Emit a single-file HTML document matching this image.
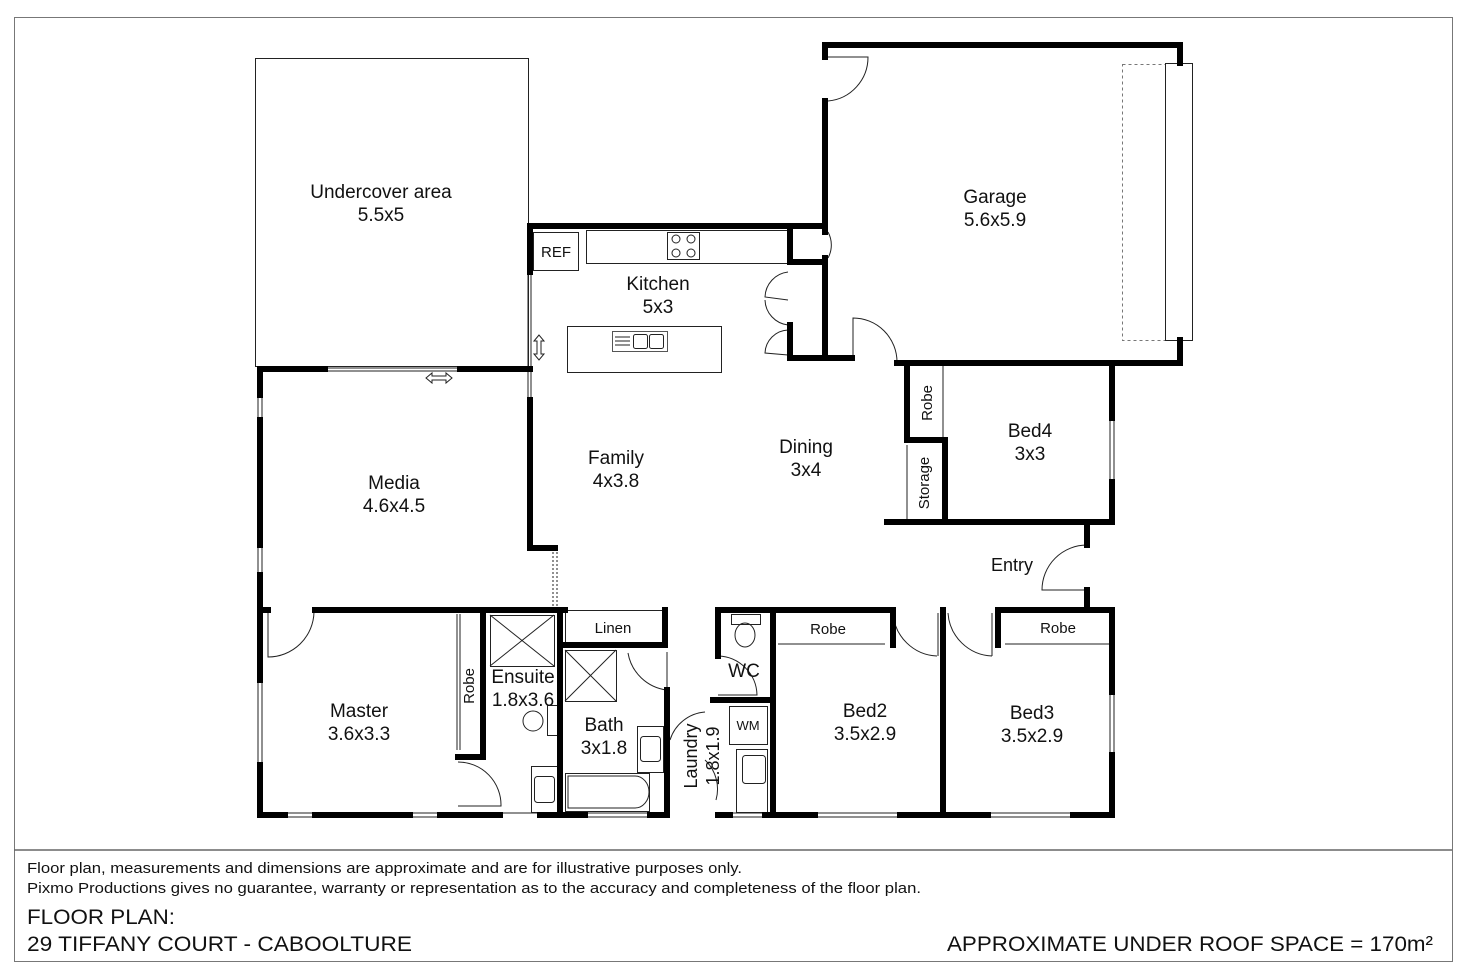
<!DOCTYPE html>
<html><head><meta charset="utf-8"><style>
html,body{margin:0;padding:0;background:#fff}
svg{display:block}
text{font-family:"Liberation Sans",sans-serif;fill:#111}
</style></head><body>
<svg width="1468" height="978" viewBox="0 0 1468 978" xmlns="http://www.w3.org/2000/svg">
<rect x="14.5" y="17.5" width="1438" height="944" fill="none" stroke="#777" stroke-width="1"/>
<line x1="14" y1="850" x2="1452" y2="850" stroke="#666" stroke-width="1.5"/>

<g fill="none" stroke="#222" stroke-width="1">
<rect x="255.5" y="58.5" width="273" height="308"/>
<line x1="325" y1="368" x2="460" y2="368"/><line x1="325" y1="371" x2="460" y2="371"/>
<line x1="528" y1="272" x2="528" y2="400"/><line x1="531" y1="272" x2="531" y2="400"/>
<line x1="553" y1="548" x2="553" y2="608" stroke-dasharray="2,2"/><line x1="557" y1="548" x2="557" y2="608" stroke-dasharray="2,2"/>
<line x1="258" y1="395" x2="258" y2="420"/><line x1="262" y1="395" x2="262" y2="420"/>
<line x1="258" y1="545" x2="258" y2="575"/><line x1="262" y1="545" x2="262" y2="575"/>
<line x1="258" y1="680" x2="258" y2="765"/><line x1="262" y1="680" x2="262" y2="765"/>
<line x1="617" y1="224" x2="643" y2="224"/><line x1="617" y1="228" x2="643" y2="228"/>
<line x1="727" y1="224" x2="757" y2="224"/><line x1="727" y1="228" x2="757" y2="228"/>
<line x1="285" y1="813" x2="315" y2="813"/><line x1="285" y1="817" x2="315" y2="817"/>
<line x1="410" y1="813" x2="440" y2="813"/><line x1="410" y1="817" x2="440" y2="817"/>
<line x1="500" y1="813" x2="540" y2="813"/><line x1="585" y1="813" x2="650" y2="813"/><line x1="585" y1="817" x2="650" y2="817"/>
<line x1="730" y1="813" x2="765" y2="813"/><line x1="730" y1="817" x2="765" y2="817"/>
<line x1="815" y1="813" x2="900" y2="813"/><line x1="815" y1="817" x2="900" y2="817"/>
<line x1="988" y1="813" x2="1073" y2="813"/><line x1="988" y1="817" x2="1073" y2="817"/>
<line x1="1110" y1="692" x2="1110" y2="755"/><line x1="1114" y1="692" x2="1114" y2="755"/>
<line x1="1110" y1="418" x2="1110" y2="482"/><line x1="1114" y1="418" x2="1114" y2="482"/>
<rect x="1122.5" y="64.5" width="43" height="276" stroke-dasharray="3,3" stroke="#777"/>
<rect x="1165.5" y="63.5" width="27" height="277"/>
<rect x="533.5" y="232.5" width="45" height="38"/>
<rect x="586.5" y="230.5" width="202" height="33"/>
<rect x="667.5" y="232.5" width="32" height="27"/>
<circle cx="676" cy="239" r="4"/><circle cx="691" cy="239" r="4"/><circle cx="676" cy="253" r="4"/><circle cx="691" cy="253" r="4"/>
<rect x="567.5" y="326.5" width="154" height="46"/>
<rect x="612.5" y="331.5" width="55" height="20" stroke="#555"/>
<rect x="633.5" y="334.5" width="14" height="14" rx="2"/><rect x="649.5" y="334.5" width="14" height="14" rx="2"/>
<line x1="615" y1="337" x2="630" y2="337"/><line x1="615" y1="341" x2="630" y2="341"/><line x1="615" y1="345" x2="630" y2="345"/>
<!-- pantry double doors -->
<path d="M788 272 A26 26 0 0 0 765 297 L788 300"/>
<path d="M788 325 A26 26 0 0 1 765 300"/>
<path d="M788 330 A24 24 0 0 0 765 353 L788 355"/>
<path d="M828 232 A27 27 0 0 1 828 258"/>
<path d="M828 57 L868 57 A44 44 0 0 1 828 101"/>
<path d="M853 360 L853 318 A44 44 0 0 1 897 362"/>
<path d="M1087 545 A45 45 0 0 0 1042 590 L1087 590"/>
<line x1="943" y1="365" x2="943" y2="440"/><line x1="907" y1="445" x2="907" y2="520"/>
<path d="M268 612 L268 657 A46 46 0 0 0 314 612"/>
<path d="M458 762 A43 43 0 0 1 501 806 L458 806"/>
<line x1="457" y1="614" x2="457" y2="750"/><line x1="460" y1="614" x2="460" y2="750"/>
<rect x="490.5" y="615.5" width="64" height="51"/>
<line x1="490" y1="615" x2="554" y2="666"/><line x1="554" y1="615" x2="490" y2="666"/>
<rect x="565.5" y="650.5" width="51" height="51"/>
<line x1="565" y1="650" x2="616" y2="701"/><line x1="616" y1="650" x2="565" y2="701"/>
<ellipse cx="533" cy="721" rx="10" ry="10"/><rect x="547.5" y="705.5" width="10" height="30"/>
<rect x="531.5" y="766.5" width="26" height="46"/><rect x="534.5" y="776.5" width="20" height="26" rx="3"/>
<rect x="565.5" y="773.5" width="84" height="38"/>
<path d="M568 776 L635 776 A14 16 0 0 1 635 808 L568 808 Z"/>
<rect x="637.5" y="726.5" width="26" height="46"/><rect x="640.5" y="736.5" width="20" height="25" rx="3"/>
<rect x="565.5" y="610.5" width="100" height="33"/>
<path d="M628 653 A45 45 0 0 0 667 690"/>
<line x1="667" y1="690" x2="667" y2="652"/>
<path d="M705 712 A40 40 0 0 0 670 740"/>
<path d="M705 760 A40 40 0 0 1 716 800"/>
<rect x="731.5" y="614.5" width="29" height="10"/><ellipse cx="745" cy="635" rx="10" ry="12"/>
<path d="M718 656 A40 40 0 0 1 757 695 L718 695"/>
<rect x="729.5" y="706.5" width="38" height="38"/>
<rect x="736.5" y="749.5" width="31" height="63"/><rect x="742.5" y="755.5" width="23" height="28" rx="3"/>
<line x1="778" y1="644" x2="885" y2="644"/><line x1="1005" y1="644" x2="1110" y2="644"/>
<path d="M893 613 A46 46 0 0 0 937 656"/>
<path d="M948 613 A46 46 0 0 0 992 656"/>
<line x1="938" y1="613" x2="938" y2="656"/><line x1="992" y1="613" x2="992" y2="656"/>
</g>
<g stroke="#222" fill="none" stroke-width="1">
<path d="M539 335 L534 341 L537 341 L537 354 L534 354 L539 360 L544 354 L541 354 L541 341 L544 341 Z"/>
<path d="M426 378 L432 373 L432 376 L446 376 L446 373 L452 378 L446 383 L446 380 L432 380 L432 383 Z"/>
</g>

<g stroke="#000" stroke-width="6" fill="none" stroke-linecap="square">
<path d="M825 57 L825 45 L1180 45 L1180 63"/>
<path d="M825 101 L825 226"/>
<path d="M1180 340 L1180 363 L897 363"/>
<path d="M825 258 L825 358 L790 358 L790 325"/>
<line x1="790" y1="358" x2="852" y2="358"/>
<path d="M530 226 L825 226 L825 232"/>
<path d="M790 226 L790 262 L825 262"/>
<line x1="530" y1="226" x2="530" y2="272"/>
<path d="M325 369 L260 369 L260 395"/>
<line x1="260" y1="420" x2="260" y2="545"/>
<line x1="260" y1="575" x2="260" y2="680"/>
<line x1="260" y1="765" x2="260" y2="815"/>
<path d="M460 369 L530 369"/>
<path d="M530 400 L530 548 L555 548"/>
<path d="M907 363 L907 440 L945 440 L945 522"/>
<path d="M887 522 L1112 522 L1112 482"/>
<path d="M1112 418 L1112 363"/>
<line x1="1087" y1="522" x2="1087" y2="545"/>
<line x1="1087" y1="590" x2="1087" y2="608"/>
<line x1="260" y1="610" x2="268" y2="610"/>
<line x1="315" y1="610" x2="565" y2="610"/>
<path d="M665 610 L665 645 L563 645"/>
<line x1="483" y1="612" x2="483" y2="757"/><line x1="458" y1="757" x2="483" y2="757"/>
<line x1="560" y1="610" x2="560" y2="815"/>
<line x1="667" y1="690" x2="667" y2="815"/>
<path d="M718 656 L718 610 L893 610 L893 645"/>
<line x1="773" y1="610" x2="773" y2="815"/>
<path d="M713 700 L773 700"/>
<line x1="943" y1="610" x2="943" y2="815"/>
<path d="M998 645 L998 610 L1112 610 L1112 692"/>
<line x1="1112" y1="755" x2="1112" y2="815"/>
<line x1="260" y1="815" x2="285" y2="815"/>
<line x1="315" y1="815" x2="410" y2="815"/>
<line x1="440" y1="815" x2="500" y2="815"/>
<line x1="540" y1="815" x2="585" y2="815"/>
<line x1="650" y1="815" x2="667" y2="815"/>
<line x1="718" y1="815" x2="730" y2="815"/>
<line x1="765" y1="815" x2="815" y2="815"/>
<line x1="900" y1="815" x2="988" y2="815"/>
<line x1="1073" y1="815" x2="1112" y2="815"/>
</g>

<g font-size="19" text-anchor="middle">
<text x="381" y="198">Undercover area</text><text x="381" y="221">5.5x5</text>
<text x="995" y="203">Garage</text><text x="995" y="226">5.6x5.9</text>
<text x="658" y="290">Kitchen</text><text x="658" y="313">5x3</text>
<text x="806" y="453">Dining</text><text x="806" y="476">3x4</text>
<text x="616" y="464">Family</text><text x="616" y="487">4x3.8</text>
<text x="394" y="489">Media</text><text x="394" y="512">4.6x4.5</text>
<text x="1030" y="437">Bed4</text><text x="1030" y="460">3x3</text>
<text x="1012" y="571" font-size="18">Entry</text>
<text x="359" y="717">Master</text><text x="359" y="740">3.6x3.3</text>
<text x="523" y="683">Ensuite</text><text x="523" y="706">1.8x3.6</text>
<text x="604" y="731">Bath</text><text x="604" y="754">3x1.8</text>
<text x="865" y="717">Bed2</text><text x="865" y="740">3.5x2.9</text>
<text x="1032" y="719">Bed3</text><text x="1032" y="742">3.5x2.9</text>
<text x="744" y="677">WC</text>
</g>
<g font-size="15" text-anchor="middle">
<text x="556" y="257">REF</text>
<text x="613" y="633">Linen</text>
<text x="828" y="634">Robe</text>
<text x="1058" y="633">Robe</text>
<text x="748" y="730" font-size="13">WM</text>
<text transform="translate(932,403) rotate(-90)">Robe</text>
<text transform="translate(929,483) rotate(-90)">Storage</text>
<text transform="translate(474,686) rotate(-90)">Robe</text>
</g>
<g font-size="18" text-anchor="middle">
<text transform="translate(697,756) rotate(-90)">Laundry</text>
<text transform="translate(719,756) rotate(-90)">1.8x1.9</text>
</g>

<text x="27" y="873" font-size="15" textLength="715" lengthAdjust="spacingAndGlyphs">Floor plan, measurements and dimensions are approximate and are for illustrative purposes only.</text>
<text x="27" y="893" font-size="15" textLength="894" lengthAdjust="spacingAndGlyphs">Pixmo Productions gives no guarantee, warranty or representation as to the accuracy and completeness of the floor plan.</text>
<text x="27" y="924" font-size="21" textLength="148" lengthAdjust="spacingAndGlyphs">FLOOR PLAN:</text>
<text x="27" y="951" font-size="21" textLength="385" lengthAdjust="spacingAndGlyphs">29 TIFFANY COURT - CABOOLTURE</text>
<text x="947" y="951" font-size="21" textLength="486" lengthAdjust="spacingAndGlyphs">APPROXIMATE UNDER ROOF SPACE = 170m²</text>
</svg>
</body></html>
